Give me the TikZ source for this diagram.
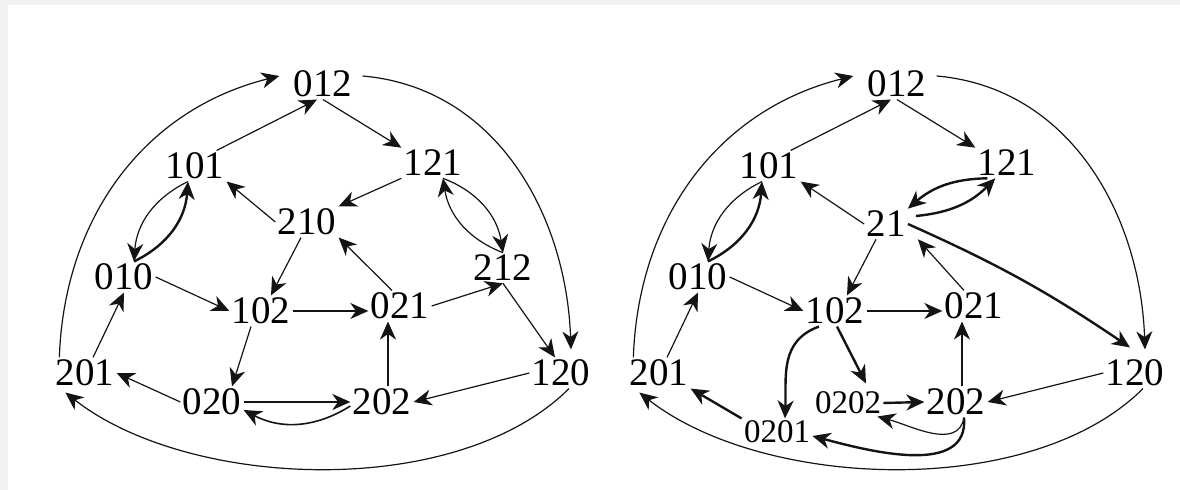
\documentclass[tikz,border=0pt]{standalone}
\usepackage{fontspec}
\setmainfont{Liberation Serif}
\usetikzlibrary{arrows.meta, calc}
\definecolor{colFrame}{RGB}{242,242,242}
\definecolor{colEdge}{RGB}{20,20,20}
\tikzset{
  stateLabel/.style={
    inner sep=1pt, font=\fontsize{19.5}{20}\selectfont
  },
  smallLabel/.style={
    inner sep=1pt, font=\fontsize{16.5}{17}\selectfont
  },
  arr/.style={
    -{Stealth[length=9pt, width=8pt, inset=2.8pt]}, line width=0.6pt, color=colEdge
  },
  midarr/.style={
    arr, line width=0.8pt
  },
  boldarr/.style={
    arr, line width=1.2pt
  }
}

\begin{document}
\begin{tikzpicture}[x=0.5pt, y=0.5pt]

  \fill[colFrame] (0,0) rectangle (1180,-490);
  \fill[white] (8,-5) rectangle (1180,-490);
  \useasboundingbox (0,0) rectangle (1180,-490);

  % ---------------- left graph ----------------
  \node[stateLabel] (L012) at (323,-84)  {012};
  \node[stateLabel] (L101) at (195,-166) {101};
  \node[stateLabel] (L121) at (433,-163) {121};
  \node[stateLabel] (L210) at (307,-222) {210};
  \node[stateLabel] (L010) at (124,-277) {010};
  \node[stateLabel] (L212) at (503,-268) {212};
  \node[stateLabel] (L102) at (261,-311) {102};
  \node[stateLabel] (L021) at (400,-306) {021};
  \node[stateLabel] (L201) at (85,-373)  {201};
  \node[stateLabel] (L120) at (561,-373) {120};
  \node[stateLabel] (L020) at (212,-402) {020};
  \node[stateLabel] (L202) at (382,-402) {202};

  % outer arcs
  \draw[arr] ([xshift=3pt]L201.north west) to[out=88, in=194] ([shift={(-6pt,4pt)}]L012.west);
  \draw[arr] ([shift={(4pt,4pt)}]L012.east) to[out=-5, in=92] ([shift={(5pt,4pt)}]L120.north);
  \draw[arr] ([xshift=4pt]L120.south) to[out=-135, in=-38, looseness=0.8] ([shift={(6pt,-2pt)}]L201.south west);

  % inner edges
  \draw[arr] ([xshift=-5pt]L101.north east) -- ([xshift=-3pt]L012.south);
  \draw[arr] (L012.south) -- (L121.north west);
  \draw[arr] (L121.south west) -- (L210.north east);
  \draw[arr] (L210.west) -- (L101.south east);
  \draw[arr] ([xshift=-3pt]L210.south) -- ([xshift=5pt]L102.north);
  \draw[arr] ([xshift=-4pt]L021.north) -- (L210.south east);
  \draw[arr] (L010.east) -- (L102.west);
  \draw[midarr] (L102.east) -- (L102.east -| L021.west);
  \draw[arr] (L021.east) -- (L212.south);
  \draw[arr] (L212.south) -- ([xshift=-3pt]L120.north);
  \draw[arr] ([xshift=4pt]L201.north) -- (L010.south);
  \draw[arr] (L020.west) -- (L201.east);
  \draw[arr] ([xshift=-5pt]L102.south) -- ([xshift=10pt]L020.north);
  \draw[midarr] ([xshift=3pt]L202.north) -- ([xshift=3pt]L202.north |- L021.south);
  \draw[arr] (L120.west) -- (L202.east);

  % two-way pairs
  \draw[arr] ([xshift=-3.5pt]L101.south) to[bend right=30] ([xshift=5pt]L010.north);
  \draw[boldarr] ([xshift=5pt]L010.north) to[bend right=30] ([xshift=-3.5pt]L101.south);
  \draw[arr] ([xshift=5pt]L121.south) to[bend left=30] (L212.north);
  \draw[arr] (L212.north) to[bend left=30] ([xshift=5pt]L121.south);
  \draw[boldarr] (L020.east) -- (L202.west);
  \draw[midarr] ([yshift=-2pt]L202.west) to[bend left=30] ([yshift=-4pt]L020.east);

  % ---------------- right graph ----------------
  \node[stateLabel] (R012) at (897,-84)  {012};
  \node[stateLabel] (R101) at (769,-166) {101};
  \node[stateLabel] (R121) at (1007,-163) {121};
  \node[stateLabel] (R21)  at (886,-224) {21};
  \node[stateLabel] (R010) at (698,-277) {010};
  \node[stateLabel] (R102) at (835,-311) {102};
  \node[stateLabel] (R021) at (974,-306) {021};
  \node[stateLabel] (R201) at (659,-373) {201};
  \node[stateLabel] (R120) at (1135,-373) {120};
  \node[smallLabel] (R0202) at (848,-403) {0202};
  \node[stateLabel] (R202) at (956,-402) {202};
  \node[smallLabel] (R0201) at (777,-432) {0201};

  % outer arcs
  \draw[arr] ([xshift=3pt]R201.north west) to[out=88, in=194] ([shift={(-6pt,4pt)}]R012.west);
  \draw[arr] ([shift={(4pt,4pt)}]R012.east) to[out=-5, in=92] ([shift={(5pt,4pt)}]R120.north);
  \draw[arr] ([xshift=4pt]R120.south) to[out=-135, in=-38, looseness=0.8] ([shift={(6pt,-2pt)}]R201.south west);

  % inner edges
  \draw[arr] ([xshift=-5pt]R101.north east) -- ([xshift=-3pt]R012.south);
  \draw[arr] (R012.south) -- (R121.north west);
  \draw[arr] (R21.west) -- (R101.south east);
  \draw[arr] ([xshift=-5pt]R21.south) -- ([xshift=6pt]R102.north);
  \draw[arr] ([xshift=-5pt]R021.north) -- ([xshift=5pt]R21.south east);
  \draw[boldarr] (R21.east) to[bend left=5] ([shift={(-2.5pt,5pt)}]R120.north);
  \draw[arr] (R010.east) -- (R102.west);
  \draw[midarr] (R102.east) -- (R102.east -| R021.west);
  \draw[arr] ([xshift=4pt]R201.north) -- (R010.south);
  \draw[boldarr] (R0201.north west) -- (R201.south east);
  \draw[boldarr] ([xshift=1pt]R102.south) -- ([shift={(9pt,3pt)}]R0202.north);
  \draw[boldarr] ([xshift=-8pt]R102.south) to[out=200, in=88, looseness=1.1] ([xshift=4pt]R0201.north);
  \draw[boldarr] (R0202.east) -- (R202.west);
  \draw[midarr] ([xshift=3pt]R202.north) -- ([xshift=3pt]R202.north |- R021.south);
  \draw[arr] (R120.west) -- (R202.east);

  % two-way pairs and loops back from 202
  \draw[arr] ([xshift=-3.5pt]R101.south) to[bend right=30] ([xshift=5pt]R010.north);
  \draw[boldarr] ([xshift=5pt]R010.north) to[bend right=30] ([xshift=-3.5pt]R101.south);
  \draw[boldarr] ([xshift=6pt]R121.south west) to[bend right=20] (R21.north east);
  \draw[boldarr] ([shift={(4pt,4pt)}]R21.east) to[bend right=20] ([xshift=10pt]R121.south west);
  \draw[arr] ([xshift=4pt]R202.south) to[out=-100, in=-15] ([xshift=-3pt]R0202.south east);
  \draw[boldarr] ([xshift=4pt]R202.south) to[out=-85, in=-15] ([yshift=-2pt]R0201.east);

\end{tikzpicture}
\end{document}
